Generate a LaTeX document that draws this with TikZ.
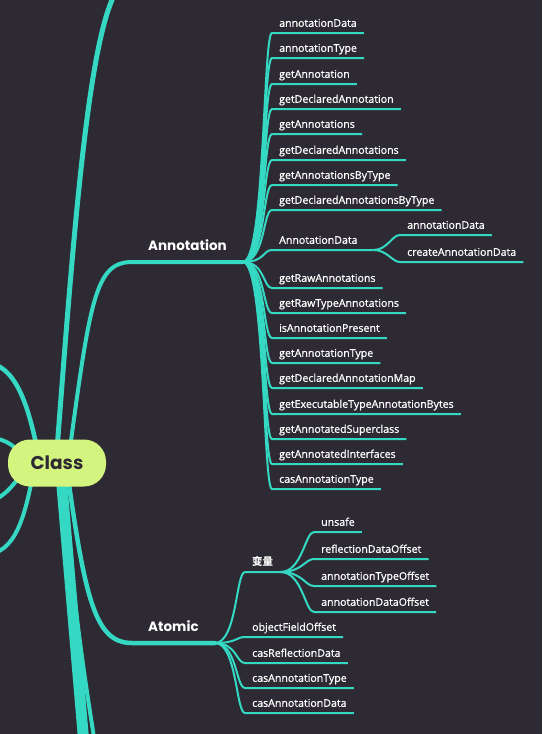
\documentclass[tikz,border=0pt]{standalone}
\usepackage{fontspec}
\usetikzlibrary{backgrounds}
\newfontfamily\leaffont{Open Sans}[FakeBold=0.9]
\newfontfamily\headfont{Poppins}
\newfontfamily\cjkfont{Noto Sans CJK SC}
\definecolor{night}{HTML}{2E2A33}
\definecolor{mint}{HTML}{35D8C3}
\definecolor{lime}{HTML}{D3F57F}

\begin{document}
\begin{tikzpicture}[x=1pt,y=-1pt,
  root/.style={fill=lime,rounded corners=22pt,minimum width=98pt,minimum height=47pt,text=night,font=\headfont\bfseries\fontsize{18.5}{20}\selectfont},
  topic/.style={anchor=south west,inner xsep=16pt,inner ysep=11.5pt,text depth=0pt,text=white,font=\headfont\bfseries\fontsize{13.5}{15}\selectfont},
  leaf/.style={anchor=south west,inner xsep=7pt,inner ysep=6pt,text depth=0pt,text=white,font=\leaffont\fontsize{10.6}{12}\selectfont},
  trunk/.style={draw=mint,line width=#1,line cap=round},trunk/.default=4pt,
  twig/.style={draw=mint,line width=2pt,out=0,in=180,out distance=22pt,in distance=9pt}]
\useasboundingbox (0,0) rectangle (542,734);
\node[root] (root) at (57,463) {Class};
% main topics
\node[topic] (ann) at (132,262) {Annotation};
\node[topic] (atom) at (132,643) {Atomic};
% Annotation
\node[leaf] (a1) at (272,33) {annotationData};
\node[leaf] (a2) at (272,58) {annotationType};
\node[leaf] (a3) at (272,84) {getAnnotation};
\node[leaf] (a4) at (272,109) {getDeclaredAnnotation};
\node[leaf] (a5) at (272,134) {getAnnotations};
\node[leaf] (a6) at (272,160) {getDeclaredAnnotations};
\node[leaf] (a7) at (272,185) {getAnnotationsByType};
\node[leaf] (a8) at (272,210) {getDeclaredAnnotationsByType};
\node[leaf,text width=87pt,align=left] (a9) at (272,250) {AnnotationData};
\node[leaf] (a10) at (272,288) {getRawAnnotations};
\node[leaf] (a11) at (272,313) {getRawTypeAnnotations};
\node[leaf] (a12) at (272,338) {isAnnotationPresent};
\node[leaf] (a13) at (272,363) {getAnnotationType};
\node[leaf] (a14) at (272,388) {getDeclaredAnnotationMap};
\node[leaf] (a15) at (272,414) {getExecutableTypeAnnotationBytes};
\node[leaf] (a16) at (272,439) {getAnnotatedSuperclass};
\node[leaf] (a17) at (272,464) {getAnnotatedInterfaces};
\node[leaf] (a18) at (272,489) {casAnnotationType};
\node[leaf] (d1) at (400,235) {annotationData};
\node[leaf] (d2) at (400,262) {createAnnotationData};
% Atomic
\node[leaf,font=\cjkfont\bfseries\fontsize{10.5}{12}\selectfont] (v) at (245,572) {变量};
\node[leaf] (b1) at (245,637) {objectFieldOffset};
\node[leaf] (b2) at (245,663) {casReflectionData};
\node[leaf] (b3) at (245,688) {casAnnotationType};
\node[leaf] (b4) at (245,713) {casAnnotationData};
\node[leaf] (c1) at (314,532) {unsafe};
\node[leaf] (c2) at (314,559) {reflectionDataOffset};
\node[leaf] (c3) at (314,586) {annotationTypeOffset};
\node[leaf] (c4) at (314,612) {annotationDataOffset};
% branches to topics outside the view
\coordinate (up) at (128,-20);
\coordinate (down1) at (87,780);
\coordinate (down2) at (101,780);
\coordinate (west1) at (-15,362);
\coordinate (west2) at (-15,437);
\coordinate (west3) at (-15,502);
\coordinate (west4) at (-15,555);
\begin{scope}[on background layer]
\fill[night] (0,0) rectangle (542,734);
\clip (0,0) rectangle (542,734);
\draw[trunk=5pt] ([xshift=-1pt]root.center) .. controls (76,200) and (92,-10) .. (up);
\draw[trunk=4pt] ([xshift=11pt]root.center) .. controls (90,300) and (95,262) .. (ann.south west) -- (ann.south east);
\draw[trunk=4.5pt] ([xshift=9pt]root.center) .. controls (85,600) and (95,643) .. (atom.south west) -- (atom.south east);
\draw[trunk=11pt] ([xshift=3pt]root.center) -- (down1);
\draw[trunk=4pt] ([xshift=5pt]root.center) .. controls (72,600) and (86,690) .. (down2);
\draw[trunk=4.5pt] ([xshift=-17pt]root.center) .. controls (28,400) and (15,365) .. (west1);
\draw[trunk=4pt] ([xshift=-27pt]root.center) .. controls (15,445) and (5,438) .. (west2);
\draw[trunk=4pt] ([xshift=-27pt]root.center) .. controls (15,482) and (5,500) .. (west3);
\draw[trunk=4pt] ([xshift=-22pt]root.center) .. controls (25,520) and (15,553) .. (west4);
% Annotation leaves
\draw[twig] (ann.south east) to (a1.south west) -- (a1.south east);
\draw[twig] (ann.south east) to (a2.south west) -- (a2.south east);
\draw[twig] (ann.south east) to (a3.south west) -- (a3.south east);
\draw[twig] (ann.south east) to (a4.south west) -- (a4.south east);
\draw[twig] (ann.south east) to (a5.south west) -- (a5.south east);
\draw[twig] (ann.south east) to (a6.south west) -- (a6.south east);
\draw[twig] (ann.south east) to (a7.south west) -- (a7.south east);
\draw[twig] (ann.south east) to (a8.south west) -- (a8.south east);
\draw[twig] (ann.south east) to (a9.south west) -- (a9.south east);
\draw[twig] (ann.south east) to (a10.south west) -- (a10.south east);
\draw[twig] (ann.south east) to (a11.south west) -- (a11.south east);
\draw[twig] (ann.south east) to (a12.south west) -- (a12.south east);
\draw[twig] (ann.south east) to (a13.south west) -- (a13.south east);
\draw[twig] (ann.south east) to (a14.south west) -- (a14.south east);
\draw[twig] (ann.south east) to (a15.south west) -- (a15.south east);
\draw[twig] (ann.south east) to (a16.south west) -- (a16.south east);
\draw[twig] (ann.south east) to (a17.south west) -- (a17.south east);
\draw[twig] (ann.south east) to (a18.south west) -- (a18.south east);
\draw[twig,out distance=14pt,in distance=8pt] (a9.south east) to (d1.south west) -- (d1.south east);
\draw[twig,out distance=14pt,in distance=8pt] (a9.south east) to (d2.south west) -- (d2.south east);
% Atomic leaves
\draw[twig] (atom.south east) to (v.south west) -- (v.south east);
\draw[twig] (atom.south east) to (b1.south west) -- (b1.south east);
\draw[twig] (atom.south east) to (b2.south west) -- (b2.south east);
\draw[twig] (atom.south east) to (b3.south west) -- (b3.south east);
\draw[twig] (atom.south east) to (b4.south west) -- (b4.south east);
\draw[twig] (v.south east) to (c1.south west) -- (c1.south east);
\draw[twig] (v.south east) to (c2.south west) -- (c2.south east);
\draw[twig] (v.south east) to (c3.south west) -- (c3.south east);
\draw[twig] (v.south east) to (c4.south west) -- (c4.south east);
\end{scope}
\end{tikzpicture}
\end{document}
